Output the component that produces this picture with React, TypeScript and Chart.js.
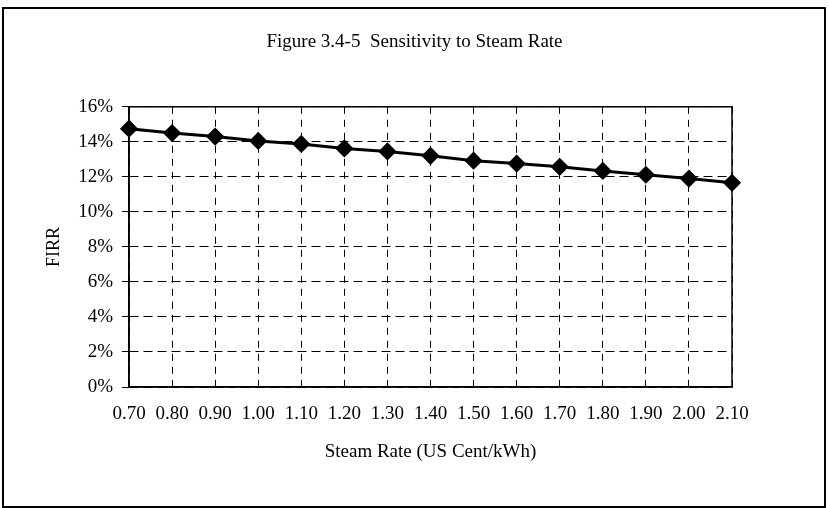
import React, { useEffect, useRef } from "react";
import { Chart, registerables } from "chart.js";

Chart.register(...registerables);

const categories = ["0.70", "0.80", "0.90", "1.00", "1.10", "1.20", "1.30", "1.40", "1.50", "1.60", "1.70", "1.80", "1.90", "2.00", "2.10"];
const firrValues = [14.75, 14.5, 14.3, 14.05, 13.88, 13.62, 13.45, 13.2, 12.92, 12.76, 12.57, 12.34, 12.12, 11.9, 11.66];
const yTicks = [0, 2, 4, 6, 8, 10, 12, 14, 16];
const chartTitle = "Figure 3.4-5  Sensitivity to Steam Rate";
const xTitle = "Steam Rate (US Cent/kWh)";
const yTitle = "FIRR";

const FONT = "'Liberation Serif', 'Times New Roman', serif";

const framePlugin = {
  id: "frame",
  afterDraw(chart: any) {
    const { ctx, chartArea } = chart;
    ctx.save();
    ctx.strokeStyle = "#000";
    ctx.lineWidth = 1.5;
    ctx.setLineDash([]);
    ctx.strokeRect(chartArea.left, chartArea.top, chartArea.right - chartArea.left, chartArea.bottom - chartArea.top);
    ctx.restore();
  },
};

export default function App() {
  const ref = useRef<HTMLCanvasElement>(null);
  useEffect(() => {
    if (!ref.current) return;
    const chart = new Chart(ref.current, {
      type: "line",
      data: {
        labels: categories,
        datasets: [
          {
            data: firrValues,
            borderColor: "#000",
            backgroundColor: "#000",
            borderWidth: 3,
            pointStyle: "rectRot",
            pointRadius: 7,
            pointBackgroundColor: "#000",
            pointBorderColor: "#000",
            tension: 0,
          },
        ],
      },
      options: {
        responsive: false,
        animation: false,
        layout: { padding: { left: 20, right: 20, top: 7, bottom: 21 } },
        plugins: {
          legend: { display: false },
          tooltip: { enabled: false },
          title: {
            display: true,
            text: chartTitle,
            color: "#000",
            font: { family: FONT, size: 19, weight: "normal" },
            padding: { top: 24, bottom: 53 },
          },
        },
        scales: {
          x: {
            type: "category",
            offset: false,
            afterFit: (s: any) => {
              s.height = 100;
            },
            grid: { color: "#000", lineWidth: 1, drawTicks: false },
            border: { display: true, color: "#000", width: 1.5, dash: [7, 6] },
            ticks: { color: "#000", font: { family: FONT, size: 19 }, padding: 16, maxRotation: 0, autoSkip: false },
            title: {
              display: true,
              text: xTitle,
              color: "#000",
              font: { family: FONT, size: 19 },
              padding: { top: 0, bottom: 24 },
            },
          },
          y: {
            min: 0,
            max: 16,
            afterFit: (s: any) => {
              s.width = 109;
            },
            afterBuildTicks: (s: any) => {
              s.ticks = yTicks.map((v) => ({ value: v }));
            },
            grid: { color: "#000", lineWidth: 1, tickLength: 7 },
            border: { display: true, color: "#000", width: 1.5, dash: [9, 5] },
            ticks: {
              color: "#000",
              font: { family: FONT, size: 19 },
              padding: 9,
              callback: (v: any) => v + "%",
            },
            title: {
              display: true,
              text: yTitle,
              color: "#000",
              font: { family: FONT, size: 18 },
              padding: { top: 23, bottom: 0 },
            },
          },
          yRight: {
            position: "right",
            min: 0,
            max: 16,
            afterFit: (s: any) => {
              s.width = 77;
            },
            grid: { display: false, drawOnChartArea: false, drawTicks: false },
            border: { display: false },
            ticks: { display: false },
          },
        },
      },
      plugins: [framePlugin],
    });
    return () => chart.destroy();
  }, []);

  return (
    <div style={{ position: "absolute", left: 0, top: 0, width: 829, height: 508, background: "#fff" }}>
      <div
        style={{
          position: "absolute",
          left: 2,
          top: 7,
          width: 820,
          height: 497,
          border: "2px solid #000",
        }}
      />
      <canvas ref={ref} width={829} height={508} style={{ position: "absolute", left: 0, top: 0, display: "block" }} />
    </div>
  );
}
